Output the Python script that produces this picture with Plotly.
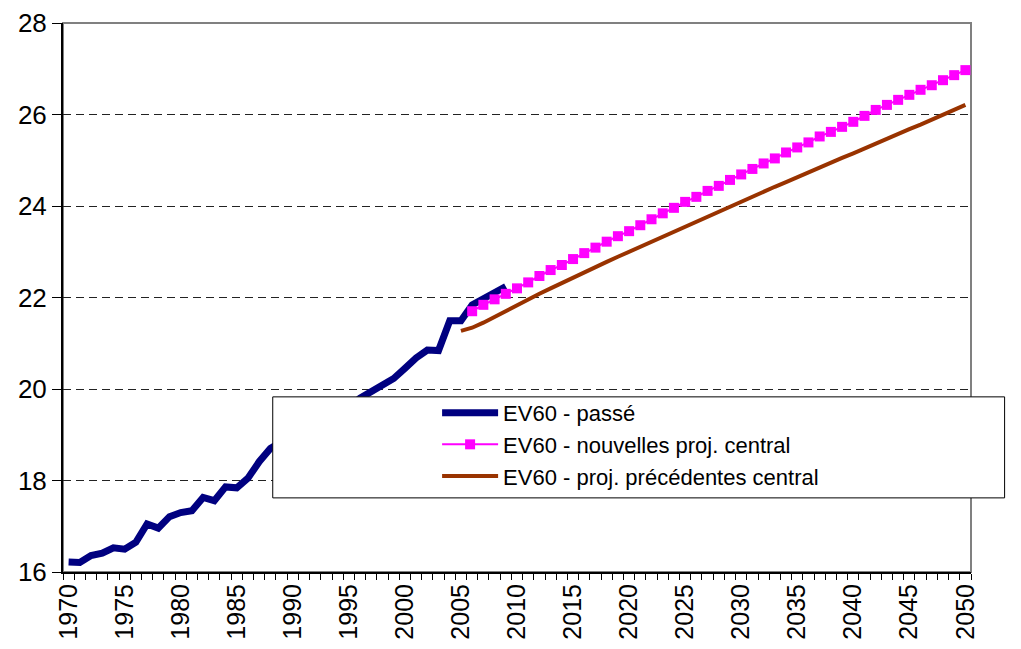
import plotly.graph_objects as go

years_past = list(range(1970, 2010))
ev60_past = [16.22, 16.21, 16.36, 16.41, 16.53, 16.50, 16.65, 17.05, 16.96, 17.21,
             17.30, 17.34, 17.63, 17.56, 17.86, 17.84, 18.05, 18.41, 18.70, 18.85,
             18.95, 19.10, 19.20, 19.30, 19.45, 19.60, 19.80, 19.94, 20.06, 20.23,
             20.45, 20.68, 20.85, 20.84, 21.49, 21.49, 21.84, 21.98, 22.09, 22.24]

years_new = list(range(2006, 2051))
ev60_new = [21.70, 21.84, 21.96, 22.08, 22.20, 22.33, 22.47, 22.60, 22.71, 22.84,
            22.97, 23.09, 23.22, 23.34, 23.45, 23.58, 23.71, 23.84, 23.96, 24.09,
            24.20, 24.33, 24.44, 24.57, 24.69, 24.81, 24.93, 25.04, 25.17, 25.28,
            25.39, 25.52, 25.62, 25.73, 25.84, 25.97, 26.10, 26.21, 26.32, 26.43,
            26.54, 26.64, 26.75, 26.86, 26.97]

years_prev = list(range(2005, 2051))
ev60_prev = [21.27, 21.34, 21.45, 21.58, 21.71, 21.83, 21.96, 22.08, 22.20, 22.32,
             22.43, 22.55, 22.66, 22.78, 22.89, 23.00, 23.12, 23.23, 23.34, 23.45,
             23.56, 23.67, 23.78, 23.88, 23.99, 24.10, 24.21, 24.31, 24.42, 24.52,
             24.63, 24.73, 24.84, 24.94, 25.05, 25.15, 25.26, 25.36, 25.47, 25.57,
             25.68, 25.78, 25.89, 25.99, 26.10, 26.21]

x_labels = list(range(1970, 2051, 5))

font = "Liberation Sans, Arial, sans-serif"

fig = go.Figure()
fig.add_trace(go.Scatter(x=years_past, y=ev60_past, mode="lines", name="EV60 - passé",
                         line=dict(color="#000080", width=7)))
fig.add_trace(go.Scatter(x=years_new, y=ev60_new, mode="lines+markers",
                         name="EV60 - nouvelles proj. central",
                         line=dict(color="#FF00FF", width=2),
                         marker=dict(symbol="square", size=10, color="#FF00FF")))
fig.add_trace(go.Scatter(x=years_prev, y=ev60_prev, mode="lines",
                         name="EV60 - proj. précédentes central",
                         line=dict(color="#993300", width=4)))

# plot area border (gray) and legend box
fig.add_shape(type="rect", xref="paper", yref="paper", x0=0, x1=1, y0=0, y1=1,
              line=dict(color="#808080", width=2), layer="below")
fig.add_shape(type="rect", xref="paper", yref="paper", x0=0.231, x1=1.037, y0=0.135, y1=0.319,
              line=dict(color="black", width=1), fillcolor="white", layer="above")

# the page body adds an 8px offset, so margins are shifted to compensate
fig.update_layout(
    width=1021, height=649,
    margin=dict(l=55, r=58, t=15, b=85),
    paper_bgcolor="white", plot_bgcolor="white",
    font=dict(family=font, size=24, color="black"),
    showlegend=True,
    legend=dict(x=0.412, y=0.328, xanchor="left", yanchor="top",
                bgcolor="rgba(0,0,0,0)", borderwidth=0,
                font=dict(size=22), itemwidth=56, tracegroupgap=0),
)
fig.update_xaxes(range=[1969.5, 2050.5], tickmode="array", tickvals=x_labels,
                 ticktext=[str(v) for v in x_labels], tickangle=-90, ticks="",
                 showline=True, linecolor="black", linewidth=2, showgrid=False,
                 zeroline=False, tickfont=dict(size=25), automargin=False,
                 minor=dict(ticks="outside", tick0=1969.5, dtick=1, ticklen=6,
                            tickcolor="black", tickwidth=1, showgrid=False))
fig.update_yaxes(range=[16, 28], dtick=2, ticks="outside", ticklen=9, tickcolor="black",
                 showline=True, linecolor="black", linewidth=2,
                 showgrid=True, gridcolor="#222222", gridwidth=1, griddash="8px,5px",
                 zeroline=False, tickfont=dict(size=26), automargin=False)

fig.write_html("out.html")
